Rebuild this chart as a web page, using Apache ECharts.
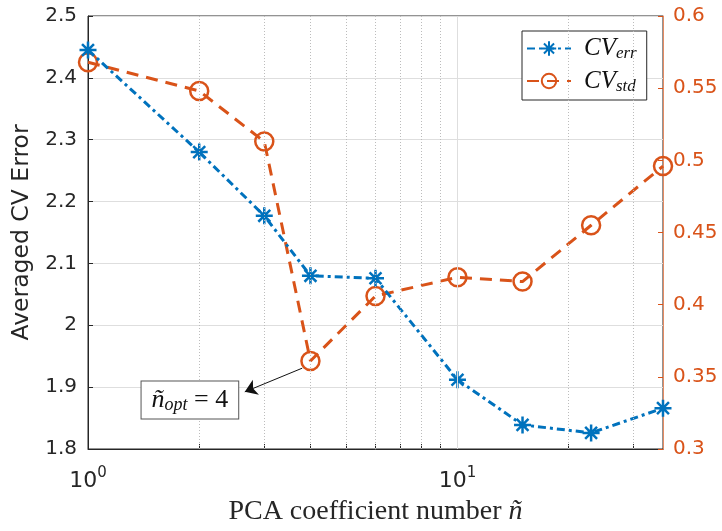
<!DOCTYPE html>
<html>
<head>
<meta charset="utf-8">
<script src="https://cdn.jsdelivr.net/npm/echarts@6/dist/echarts.min.js"></script>
<style>
  html, body { margin: 0; padding: 0; background: #fff; }
  #chart { width: 722px; height: 531px; }
</style>
</head>
<body>
<div id="chart"></div>
<script>
// Number of PCA coefficients kept
const nValues = [1, 2, 3, 4, 6, 10, 15, 23, 36];
// Averaged cross-validation error (left axis)
const cvErr = [2.445, 2.280, 2.177, 2.080, 2.076, 1.912, 1.839, 1.826, 1.866];
// Standard deviation of the CV error (right axis)
const cvStd = [0.568, 0.548, 0.513, 0.361, 0.406, 0.419, 0.416, 0.455, 0.496];

// Log-axis tick positions
const xMajorTicks = [1, 10];
const xMinorTicks = [2, 3, 4, 5, 6, 7, 8, 9, 20, 30];

// Optimal coefficient count and its callout anchors (data units, right axis)
const nOpt = 4;
const calloutBox = [1.887, 0.334];
const calloutTip = [2.657, 0.3396];

const BLUE = '#0072BD';
const ORANGE = '#D95319';
const AXIS = '#262626';
const SANS = 'DejaVu Sans';
const SERIF = 'Liberation Serif';

const asterisk = 'path://M10,0L10,20M0,10L20,10M3,3L17,17M3,17L17,3';
const optIndex = nValues.indexOf(nOpt);

const chart = echarts.init(document.getElementById('chart'), null, { renderer: 'canvas' });

chart.setOption({
  animation: false,
  backgroundColor: '#fff',
  grid: {
    left: 88, right: 59, top: 16, bottom: 82,
    show: true, borderColor: AXIS, borderWidth: 1, backgroundColor: '#fff'
  },
  legend: {
    data: ['CV_err', 'CV_std'],
    orient: 'vertical',
    left: 522, top: 31,
    itemWidth: 44, itemHeight: 18, itemGap: 6,
    padding: [5, 10, 5, 4],
    backgroundColor: '#fff',
    borderColor: AXIS, borderWidth: 1, borderRadius: 0,
    formatter: name => {
      const [main, sub] = name.split('_');
      return '{m|' + main + '}{s|' + sub + '}';
    },
    textStyle: {
      rich: {
        m: { fontFamily: SERIF, fontStyle: 'italic', fontSize: 25, color: '#111', lineHeight: 28, verticalAlign: 'middle', padding: [0, 0, 0, 8] },
        s: { fontFamily: SERIF, fontStyle: 'italic', fontSize: 17, color: '#111', lineHeight: 14, verticalAlign: 'bottom' }
      }
    }
  },
  xAxis: {
    type: 'log',
    logBase: 10,
    min: nValues[0],
    max: nValues[nValues.length - 1],
    name: '{t|PCA coefficient number }{n|ñ}',
    nameLocation: 'middle',
    nameGap: 49,
    nameTextStyle: {
      rich: {
        t: { fontFamily: SERIF, fontSize: 28, color: AXIS },
        n: { fontFamily: SERIF, fontSize: 28, fontStyle: 'italic', color: AXIS }
      }
    },
    axisLine: { show: true, lineStyle: { color: AXIS, width: 1 } },
    axisTick: {
      show: true, inside: true, length: 5,
      customValues: xMajorTicks.concat(xMinorTicks),
      lineStyle: { color: AXIS }
    },
    axisLabel: {
      show: true,
      customValues: xMajorTicks,
      margin: 17,
      formatter: v => '{b|10}{p|' + Math.round(Math.log10(v)) + '}',
      rich: {
        b: { fontFamily: SANS, fontSize: 22, color: AXIS, lineHeight: 26, verticalAlign: 'bottom' },
        p: { fontFamily: SANS, fontSize: 15, color: AXIS, lineHeight: 26, verticalAlign: 'top', padding: [0, 0, 12, 0] }
      }
    },
    splitLine: { show: false }
  },
  yAxis: [
    {
      type: 'value',
      position: 'left',
      min: 1.8, max: 2.5, interval: 0.1,
      name: 'Averaged CV Error',
      nameLocation: 'middle',
      nameGap: 54,
      nameTextStyle: { fontFamily: SANS, fontSize: 23.5, color: AXIS },
      axisLine: { show: true, lineStyle: { color: AXIS, width: 1 } },
      axisTick: { show: true, inside: true, length: 5, lineStyle: { color: AXIS } },
      axisLabel: { fontFamily: SANS, fontSize: 20, color: AXIS, margin: 11 },
      splitLine: { show: true, lineStyle: { color: '#dedede', width: 1 } }
    },
    {
      type: 'value',
      position: 'right',
      min: 0.3, max: 0.6, interval: 0.05,
      axisLine: { show: true, lineStyle: { color: '#e58b62', width: 1 } },
      axisTick: { show: true, inside: true, length: 5, lineStyle: { color: ORANGE } },
      axisLabel: { fontFamily: SANS, fontSize: 20, color: ORANGE, margin: 10 },
      splitLine: { show: false }
    }
  ],
  series: [
    {
      // vertical log-grid lines
      name: 'grid',
      type: 'line',
      data: [],
      z: 1,
      silent: true,
      markLine: {
        silent: true,
        symbol: 'none',
        label: { show: false },
        animation: false,
        data: xMinorTicks.map(v => ({
          xAxis: v,
          lineStyle: { type: [1, 2], color: '#bcbcbc', width: 1 }
        })).concat([{ xAxis: 10, lineStyle: { type: 'solid', color: '#dedede', width: 1 } }])
      }
    },
    {
      name: 'CV_std',
      type: 'line',
      yAxisIndex: 1,
      z: 3,
      data: nValues.map((n, i) => [n, cvStd[i]]),
      color: ORANGE,
      symbol: 'circle',
      symbolSize: 18,
      itemStyle: { color: 'rgba(255,255,255,0)', borderColor: ORANGE, borderWidth: 2.5 },
      lineStyle: { color: ORANGE, width: 3, type: [12, 8] },
      markLine: {
        silent: true,
        symbol: ['none', 'arrow'],
        symbolSize: 12,
        label: { show: false },
        itemStyle: { color: '#111' },
        lineStyle: { color: '#111', width: 1, type: 'solid' },
        data: [[
          { coord: [nOpt * 0.95, cvStd[optIndex] - 0.005] },
          { coord: calloutTip }
        ]]
      },
      markPoint: {
        silent: true,
        data: [{
          coord: calloutBox,
          symbol: 'rect',
          symbolSize: 1,
          itemStyle: { color: 'rgba(0,0,0,0)' },
          label: {
            show: true,
            position: 'inside',
            formatter: '{n|ñ}{s|opt}{e| = ' + nOpt + '}',
            backgroundColor: '#fff',
            borderColor: '#555',
            borderWidth: 1,
            padding: [4, 10, 4, 10],
            rich: {
              n: { fontFamily: SERIF, fontStyle: 'italic', fontSize: 26, color: '#111', lineHeight: 29, verticalAlign: 'middle' },
              s: { fontFamily: SERIF, fontStyle: 'italic', fontSize: 18, color: '#111', lineHeight: 12, verticalAlign: 'bottom' },
              e: { fontFamily: SERIF, fontSize: 26, color: '#111', lineHeight: 29, verticalAlign: 'middle' }
            }
          }
        }]
      }
    },
    {
      name: 'CV_err',
      type: 'line',
      yAxisIndex: 0,
      z: 4,
      data: nValues.map((n, i) => [n, cvErr[i]]),
      color: BLUE,
      symbol: asterisk,
      symbolSize: 17,
      itemStyle: { color: BLUE, borderColor: BLUE, borderWidth: 2.5 },
      lineStyle: { color: BLUE, width: 3, type: [8, 4, 3, 4] }
    }
  ]
});
</script>
</body>
</html>
